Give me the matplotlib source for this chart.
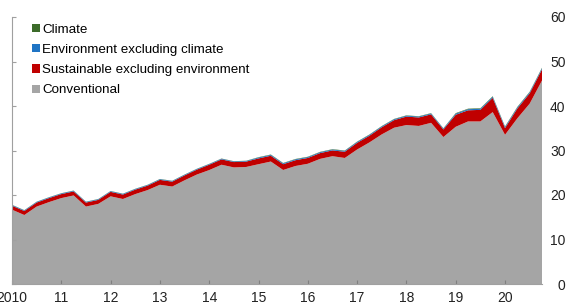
import numpy as np
import matplotlib
matplotlib.use("Agg")
import matplotlib.pyplot as plt
from matplotlib.patches import Patch

plt.rcParams['font.family'] = ['Liberation Sans', 'DejaVu Sans']

# Quarterly, 2010Q1 .. 2020Q4
quarters = [2010 + i / 4 for i in range(44)]

total = [17.8, 16.6, 18.5, 19.5, 20.4, 21.0, 18.5, 19.1, 20.9, 20.3, 21.4,
         22.3, 23.6, 23.2, 24.6, 25.9, 27.0, 28.2, 27.6, 27.7, 28.5,
         29.1, 27.2, 28.1, 28.6, 29.7, 30.3, 30.0, 32.0, 33.6, 35.5, 37.1,
         37.9, 37.7, 38.4, 35.0, 38.4, 39.4, 39.5, 42.2, 35.4, 39.8, 43.2, 48.6]

sustainable_ex_env = [0.9, 0.9, 0.9, 0.9, 0.9, 0.9, 0.9, 0.9, 1.0, 1.0, 1.0,
                      1.0, 1.1, 1.1, 1.1, 1.1, 1.2, 1.2, 1.2, 1.2, 1.3,
                      1.3, 1.3, 1.3, 1.3, 1.3, 1.3, 1.4, 1.5, 1.5, 1.6, 1.7,
                      1.9, 1.9, 1.9, 1.7, 2.7, 2.5, 2.6, 3.2, 1.5, 2.2, 2.3, 2.5]

env_ex_climate = [0.15] * 20 + [0.2] * 16 + [0.25] * 8
climate = [0.05] * 20 + [0.08] * 16 + [0.12] * 8

conventional = [t - s - e - c for t, s, e, c in
                zip(total, sustainable_ex_env, env_ex_climate, climate)]

labels = ["Conventional", "Sustainable excluding environment",
          "Environment excluding climate", "Climate"]
colors = ["#a5a5a5", "#c00000", "#1f74c4", "#3c6b2a"]

year_ticks = list(range(2010, 2021))
year_labels = ["2010"] + [str(y % 100) for y in range(2011, 2021)]
y_ticks = [0, 10, 20, 30, 40, 50, 60]

fig = plt.figure(figsize=(5.69, 3.06), dpi=100)
ax = fig.add_axes([12 / 569, 1 - 284 / 306, (542 - 12) / 569, (284 - 17) / 306])

ax.stackplot(quarters, conventional, sustainable_ex_env, env_ex_climate, climate,
             colors=colors, linewidth=0)

ax.set_xlim(2010, 2020.75)
ax.set_ylim(0, 60)
ax.set_xticks(year_ticks)
ax.set_xticklabels(year_labels)
ax.set_yticks(y_ticks)

ax.yaxis.tick_right()
ax.tick_params(axis='y', which='both', right=False, left=True, labelleft=False,
               labelright=True, direction='in', length=3, color='#a0a0a0',
               pad=17, labelsize=10, labelcolor='#222222')
for lab in ax.get_yticklabels():
    lab.set_horizontalalignment('right')
ax.tick_params(axis='x', direction='in', length=3, color='#808080',
               labelsize=10, labelcolor='#222222', pad=5)

for s in ['top', 'right']:
    ax.spines[s].set_visible(False)
ax.spines['left'].set_color('#a0a0a0')
ax.spines['bottom'].set_color('#a0a0a0')
ax.spines['left'].set_linewidth(0.8)
ax.spines['bottom'].set_linewidth(0.8)

handles = [Patch(facecolor=colors[i], edgecolor='none') for i in [3, 2, 1, 0]]
leg_labels = [labels[i] for i in [3, 2, 1, 0]]
ax.legend(handles, leg_labels, loc='upper left', bbox_to_anchor=(0.028, 0.995),
          frameon=False, fontsize=9.6, handlelength=0.6, handleheight=0.6,
          handletextpad=0.15, labelspacing=0.62, borderaxespad=0)

fig.savefig("out.png", dpi=100)
